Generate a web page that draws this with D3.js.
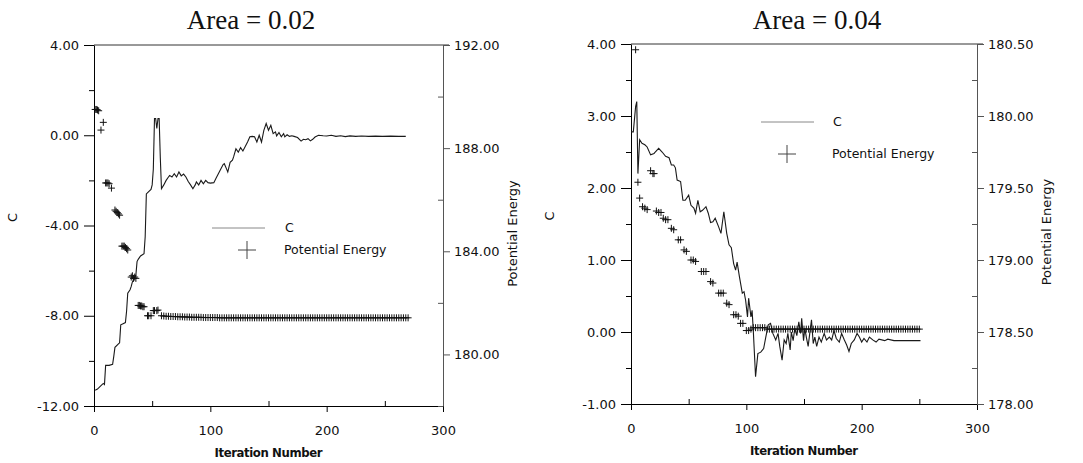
<!DOCTYPE html>
<html>
<head>
<meta charset="utf-8">
<script src="https://cdn.jsdelivr.net/npm/d3@7"></script>
<style>
  body { margin: 0; background: #fff; }
  svg text { font-family: 'DejaVu Sans', Verdana, sans-serif; fill: #111; }
  .title { font-family: 'Liberation Serif', 'Times New Roman', serif; }
</style>
</head>
<body>
<svg id="chart" width="1083" height="463"></svg>
<script>
// ---- chart data ----
const titles = ['Area = 0.02', 'Area = 0.04']
const xTicks = [0, 100, 200, 300]
const xMinorTicks = [50, 150, 250]

// left panel : [iteration, value]
const cTicksA = [4, 0, -4, -8, -12]
const cMinorA = [2, -2, -6, -10]
const peTicksA = [192, 188, 184, 180]
const peMinorA = [190, 186, 182, 178]

const cA = [
  [1, -11.3], [3, -11.25], [6, -11.1], [8, -11.0], [9, -11.05], [10, -10.2], [13, -10.2], [16, -10.15],
  [17, -9.8], [18, -9.4], [21, -9.25], [22, -9.2], [23, -8.4], [25, -8.35], [27, -8.3], [28, -7.8],
  [29, -7.0], [31, -6.85], [32, -6.7], [33, -6.5], [34, -6.4], [36, -6.2], [37, -5.6], [38, -5.5],
  [40, -5.35], [43, -5.25], [44, -4.5], [45, -2.6], [47, -2.5], [49, -2.4], [50, -2.2], [51, -1.5],
  [52, 0.74], [53, 0.74], [54, 0.3], [55, 0.74], [56, 0.74], [57, -1.0], [58, -2.37], [60, -2.2],
  [62, -2.0], [64, -1.85], [65, -1.78], [67, -1.85], [69, -1.7], [71, -1.85], [73, -1.63], [75, -1.8],
  [77, -1.72], [79, -1.85], [81, -2.05], [83, -2.2], [85, -2.37], [87, -2.2], [88, -2.07], [90, -2.2],
  [92, -2.0], [94, -2.15], [96, -2.0], [98, -2.1], [100, -2.12], [103, -2.1], [105, -1.9], [107, -1.7],
  [109, -1.5], [111, -1.3], [112, -1.26], [114, -1.5], [115, -1.63], [117, -1.2], [119, -1.1], [120, -0.96],
  [122, -0.6], [124, -0.75], [126, -0.55], [128, -0.7], [130, -0.5], [132, -0.3], [134, -0.07], [136, -0.05],
  [138, -0.07], [140, -0.3], [142, 0.0], [144, -0.3], [146, 0.22], [148, 0.52], [150, 0.22], [152, 0.44],
  [154, 0.07], [156, 0.15], [157, -0.03], [159, 0.12], [161, -0.07], [163, 0.07], [164, -0.07], [166, 0.02],
  [168, -0.05], [170, -0.02], [172, -0.05], [175, -0.1], [178, -0.26], [180, -0.18], [182, -0.2], [184, -0.15],
  [186, -0.25], [188, -0.18], [190, -0.08], [193, 0.0], [197, -0.02], [200, -0.03], [204, 0.0], [208, -0.05],
  [212, -0.02], [216, -0.06], [220, -0.03], [225, -0.05], [230, -0.03], [236, -0.05], [242, -0.04], [248, -0.05],
  [255, -0.04], [262, -0.05], [268, -0.05]
]

const peA = [
  [1, 189.5], [2, 189.5], [3, 189.48], [4, 189.45], [6, 188.7], [8, 189.0],
  [10, 186.65], [11, 186.65], [12, 186.65], [13, 186.62], [15, 186.45],
  [18, 185.6], [19, 185.55], [20, 185.5], [21, 185.45], [22, 185.4],
  [24, 184.2], [25, 184.2], [26, 184.2], [27, 184.15], [28, 184.1], [29, 184.05],
  [32, 183.0], [33, 183.05], [34, 182.95], [35, 183.0], [36, 182.95],
  [38, 181.9], [39, 181.9], [40, 181.88], [41, 181.88], [42, 181.85], [43, 181.85],
  [46, 181.5], [47, 181.5], [49, 181.5], [51, 181.7], [52, 181.7], [54, 181.7], [55, 181.72],
  [58, 181.5], [60, 181.49], [62, 181.48], [64, 181.48], [66, 181.47], [68, 181.47], [70, 181.47], [72, 181.46],
  [74, 181.46], [76, 181.46], [78, 181.45], [80, 181.45], [82, 181.45], [84, 181.44], [86, 181.44], [88, 181.44],
  [90, 181.44], [92, 181.44], [94, 181.43], [96, 181.43], [98, 181.43], [100, 181.43], [102, 181.43], [104, 181.43],
  [106, 181.43], [108, 181.42], [110, 181.42], [112, 181.42], [114, 181.42], [116, 181.42], [118, 181.42], [120, 181.42],
  [122, 181.42], [124, 181.42], [126, 181.42], [128, 181.42], [130, 181.42], [132, 181.42], [134, 181.42], [136, 181.42],
  [138, 181.42], [140, 181.42], [142, 181.42], [144, 181.42], [146, 181.42], [148, 181.42], [150, 181.42], [152, 181.42],
  [154, 181.42], [156, 181.42], [158, 181.42], [160, 181.42], [162, 181.42], [164, 181.42], [166, 181.42], [168, 181.42],
  [170, 181.42], [172, 181.42], [174, 181.42], [176, 181.42], [178, 181.42], [180, 181.42], [182, 181.42], [184, 181.42],
  [186, 181.42], [188, 181.42], [190, 181.42], [192, 181.42], [194, 181.42], [196, 181.42], [198, 181.42], [200, 181.42],
  [202, 181.42], [204, 181.42], [206, 181.42], [208, 181.42], [210, 181.42], [212, 181.42], [214, 181.42], [216, 181.42],
  [218, 181.42], [220, 181.42], [222, 181.42], [224, 181.42], [226, 181.42], [228, 181.42], [230, 181.42], [232, 181.42],
  [234, 181.42], [236, 181.42], [238, 181.42], [240, 181.42], [242, 181.42], [244, 181.42], [246, 181.42], [248, 181.42],
  [250, 181.42], [252, 181.42], [254, 181.42], [256, 181.42], [258, 181.42], [260, 181.42], [262, 181.42], [264, 181.42],
  [266, 181.42], [268, 181.42], [270, 181.42]
]

// right panel : [iteration, value]
const cTicksB = [4, 3, 2, 1, 0, -1]
const cMinorB = [3.5, 2.5, 1.5, 0.5, -0.5]
const peTicksB = [180.5, 180, 179.5, 179, 178.5, 178]
const peMinorB = [180.25, 179.75, 179.25, 178.75, 178.25]

const cB = [
  [0, 2.78], [2, 2.78], [4, 3.13], [5, 3.2], [6, 2.2], [7.5, 2.67], [9.5, 2.62], [12, 2.6], [14, 2.57],
  [17, 2.46], [20, 2.48], [21, 2.5], [24, 2.55], [27, 2.5], [30, 2.44], [33, 2.42], [35, 2.32], [37, 2.32],
  [38.5, 2.28], [40, 2.11], [43, 2.09], [45, 1.83], [47, 1.83], [50, 1.9], [52, 1.76], [54.5, 1.72], [56, 1.65],
  [58, 1.83], [60, 1.67], [62, 1.69], [65, 1.74], [67, 1.65], [69, 1.52], [71, 1.53], [73, 1.58], [76, 1.46],
  [78, 1.37], [80.5, 1.67], [83, 1.37], [85, 1.21], [87, 1.17], [89, 0.95], [90.7, 0.86], [92, 0.97], [94, 0.77],
  [96.5, 0.54], [98, 0.56], [99.4, 0.44], [101, 0.21], [102, 0.47], [104, 0.21], [105, 0.3], [106, 0.03],
  [108, -0.62], [110, -0.3], [112.5, -0.28], [115, -0.23], [117, -0.06], [119, 0.1], [121, 0.12], [123, -0.02],
  [125.5, -0.11], [127.5, -0.02], [129, -0.2], [131, -0.39], [132.8, -0.11], [134.5, -0.16], [136, -0.02],
  [138, -0.25], [139, 0.0], [140.6, -0.12], [142, 0.05], [143.8, -0.05], [145.5, 0.14], [147, -0.02], [148, 0.19],
  [149.6, -0.12], [150.7, 0.05], [152, -0.07], [153.6, -0.2], [155, -0.02], [156.5, 0.17], [158, -0.16],
  [159.4, -0.07], [161, -0.2], [163, -0.07], [165, -0.14], [167.5, -0.02], [169.5, -0.11], [172, -0.07],
  [174, -0.11], [176, 0.02], [178, -0.09], [180.6, -0.14], [182.6, -0.02], [185, -0.11], [187, -0.18],
  [189, -0.27], [191, -0.16], [193.6, -0.11], [196, -0.02], [198, -0.07], [200, -0.14], [202, -0.09],
  [204.6, -0.14], [206.7, -0.07], [209.6, -0.11], [212.5, -0.14], [215, -0.1], [220, -0.12], [222.6, -0.1],
  [228, -0.12], [240, -0.12], [251, -0.12]
]

const peB = [
  [4, 180.46], [6, 179.54], [7.5, 179.43], [10, 179.37], [12, 179.36], [14, 179.35], [17, 179.62], [19, 179.6],
  [20, 179.6], [22, 179.34], [24, 179.33], [26, 179.33], [28, 179.29], [30, 179.28], [32, 179.28], [35, 179.22],
  [37, 179.21], [41, 179.14], [43, 179.14], [46, 179.07], [48, 179.06], [52, 179.0], [54, 179.0], [56, 178.99],
  [61, 178.92], [63, 178.92], [65, 178.92], [69, 178.85], [71, 178.84], [76, 178.77], [78, 178.77], [80, 178.77],
  [83, 178.7], [85, 178.69], [89, 178.62], [91, 178.62], [93, 178.61], [95, 178.56], [97, 178.56],
  [100, 178.51], [102, 178.51], [104, 178.52], [106, 178.53], [108, 178.53], [110, 178.53], [112, 178.53],
  [114, 178.53], [116, 178.53], [118, 178.52], [120, 178.52], [122, 178.52], [124, 178.52], [126, 178.52],
  [128, 178.52], [130, 178.52], [132, 178.52], [134, 178.52], [136, 178.52], [138, 178.52], [140, 178.52],
  [142, 178.52], [144, 178.52], [146, 178.52], [148, 178.52], [150, 178.52], [152, 178.52], [154, 178.52],
  [156, 178.52], [158, 178.52], [160, 178.52], [162, 178.52], [164, 178.52], [166, 178.52], [168, 178.52],
  [170, 178.52], [172, 178.52], [174, 178.52], [176, 178.52], [178, 178.52], [180, 178.52], [182, 178.52],
  [184, 178.52], [186, 178.52], [188, 178.52], [190, 178.52], [192, 178.52], [194, 178.52], [196, 178.52],
  [198, 178.52], [200, 178.52], [202, 178.52], [204, 178.52], [206, 178.52], [208, 178.52], [210, 178.52],
  [212, 178.52], [214, 178.52], [216, 178.52], [218, 178.52], [220, 178.52], [222, 178.52], [224, 178.52],
  [226, 178.52], [228, 178.52], [230, 178.52], [232, 178.52], [234, 178.52], [236, 178.52], [238, 178.52],
  [240, 178.52], [242, 178.52], [244, 178.52], [246, 178.52], [248, 178.52], [250, 178.52]
]

// ---- layout ----
const panels = [
  {
    title: titles[0], titleX: 251, left: 94, top: 45, right: 443, bottom: 406,
    cDomain: [-12, 4], peDomain: [178, 192],
    cTicks: cTicksA, cMinor: cMinorA, peTicks: peTicksA, peMinor: peMinorA,
    c: cA, pe: peA,
    legend: { lineX: 212, lineY: 228, plusX: 247, plusY: 250, textX: 284 }
  },
  {
    title: titles[1], titleX: 817, left: 631, top: 44, right: 977, bottom: 404,
    cDomain: [-1, 4], peDomain: [178, 180.5],
    cTicks: cTicksB, cMinor: cMinorB, peTicks: peTicksB, peMinor: peMinorB,
    c: cB, pe: peB,
    legend: { lineX: 761, lineY: 122, plusX: 787, plusY: 154, textX: 832 }
  }
]

const svg = d3.select('#chart')
const fmt = d => d.toFixed(2)

panels.forEach(p => {
  const g = svg.append('g')
  const midX = (p.left + p.right) / 2

  const x = d3.scaleLinear().domain([0, 300]).range([p.left, p.right])
  const yC = d3.scaleLinear().domain(p.cDomain).range([p.bottom, p.top])
  const yPE = d3.scaleLinear().domain(p.peDomain).range([p.bottom, p.top])

  // frame : top border
  g.append('line')
    .attr('x1', p.left).attr('x2', p.right + 6)
    .attr('y1', p.top).attr('y2', p.top)
    .attr('stroke', '#333').attr('stroke-width', 1)

  // bottom axis
  const xAxisG = g.append('g').attr('transform', `translate(0,${p.bottom})`)
  xAxisG.call(d3.axisBottom(x).tickValues(xTicks).tickFormat(d => d)
    .tickSize(6).tickSizeOuter(0).tickPadding(14))
  xAxisG.append('g').call(d3.axisBottom(x).tickValues(xMinorTicks).tickFormat('')
    .tickSize(-5).tickSizeOuter(0))
    .select('.domain').remove()

  // left axis (C)
  const yAxisG = g.append('g').attr('transform', `translate(${p.left},0)`)
  yAxisG.call(d3.axisLeft(yC).tickValues(p.cTicks).tickFormat(fmt)
    .tickSize(10).tickSizeOuter(0).tickPadding(5))
  yAxisG.append('g').call(d3.axisLeft(yC).tickValues(p.cMinor).tickFormat('')
    .tickSize(5).tickSizeOuter(0))
    .select('.domain').remove()

  // right axis (potential energy)
  const peAxisG = g.append('g').attr('transform', `translate(${p.right},0)`)
  peAxisG.call(d3.axisRight(yPE).tickValues(p.peTicks).tickFormat(fmt)
    .tickSize(7).tickSizeOuter(0).tickPadding(4))
  peAxisG.append('g').call(d3.axisRight(yPE).tickValues(p.peMinor).tickFormat('')
    .tickSize(-5).tickSizeOuter(0))
    .select('.domain').remove()
  peAxisG.selectAll('.domain, line').attr('stroke', '#555')

  g.selectAll('.tick text').style('font-size', '13px').attr('fill', '#111')
  g.selectAll('.domain').attr('stroke-width', 1)

  // titles and axis labels
  g.append('text').attr('class', 'title')
    .attr('x', p.titleX).attr('y', 29)
    .attr('text-anchor', 'middle')
    .style('font-size', '27px')
    .text(p.title)

  g.append('text')
    .attr('x', midX).attr('y', p.bottom + 51)
    .attr('text-anchor', 'middle')
    .style('font-size', '13px').style('font-weight', 'bold')
    .style('font-stretch', 'condensed')
    .attr('textLength', 108)
    .text('Iteration Number')

  g.append('text')
    .attr('transform', `translate(${p.left - 81},${(p.top + p.bottom) / 2 - 8}) rotate(-90)`)
    .attr('text-anchor', 'middle').attr('dominant-baseline', 'middle')
    .style('font-size', '13px')
    .text('C')

  g.append('text')
    .attr('transform', `translate(${p.right + 70},${(p.top + p.bottom) / 2 + 8}) rotate(-90)`)
    .attr('text-anchor', 'middle').attr('dominant-baseline', 'middle')
    .style('font-size', '13px')
    .text('Potential Energy')

  // C line
  const line = d3.line().x(d => x(d[0])).y(d => yC(d[1]))
  g.append('path')
    .datum(p.c)
    .attr('d', line)
    .attr('fill', 'none')
    .attr('stroke', '#1a1a1a')
    .attr('stroke-width', 1.1)

  // potential energy markers
  g.selectAll('.pe')
    .data(p.pe)
    .enter()
    .append('path')
    .attr('class', 'pe')
    .attr('transform', d => `translate(${x(d[0])},${yPE(d[1])})`)
    .attr('d', 'M-3.5,0H3.5M0,-3.5V3.5')
    .attr('stroke', '#111')
    .attr('stroke-width', 1)

  // legend
  const lg = p.legend
  g.append('line')
    .attr('x1', lg.lineX).attr('x2', lg.lineX + 53)
    .attr('y1', lg.lineY).attr('y2', lg.lineY)
    .attr('stroke', '#888').attr('stroke-width', 1)
  g.append('text')
    .attr('x', lg.textX + 1).attr('y', lg.lineY)
    .attr('dominant-baseline', 'middle')
    .style('font-size', '12.5px')
    .text('C')
  g.append('path')
    .attr('transform', `translate(${lg.plusX},${lg.plusY})`)
    .attr('d', 'M-9,0H9M0,-9V9')
    .attr('stroke', '#444').attr('stroke-width', 1)
  g.append('text')
    .attr('x', lg.textX).attr('y', lg.plusY)
    .attr('dominant-baseline', 'middle')
    .style('font-size', '12.5px')
    .text('Potential Energy')
})
</script>
</body>
</html>
